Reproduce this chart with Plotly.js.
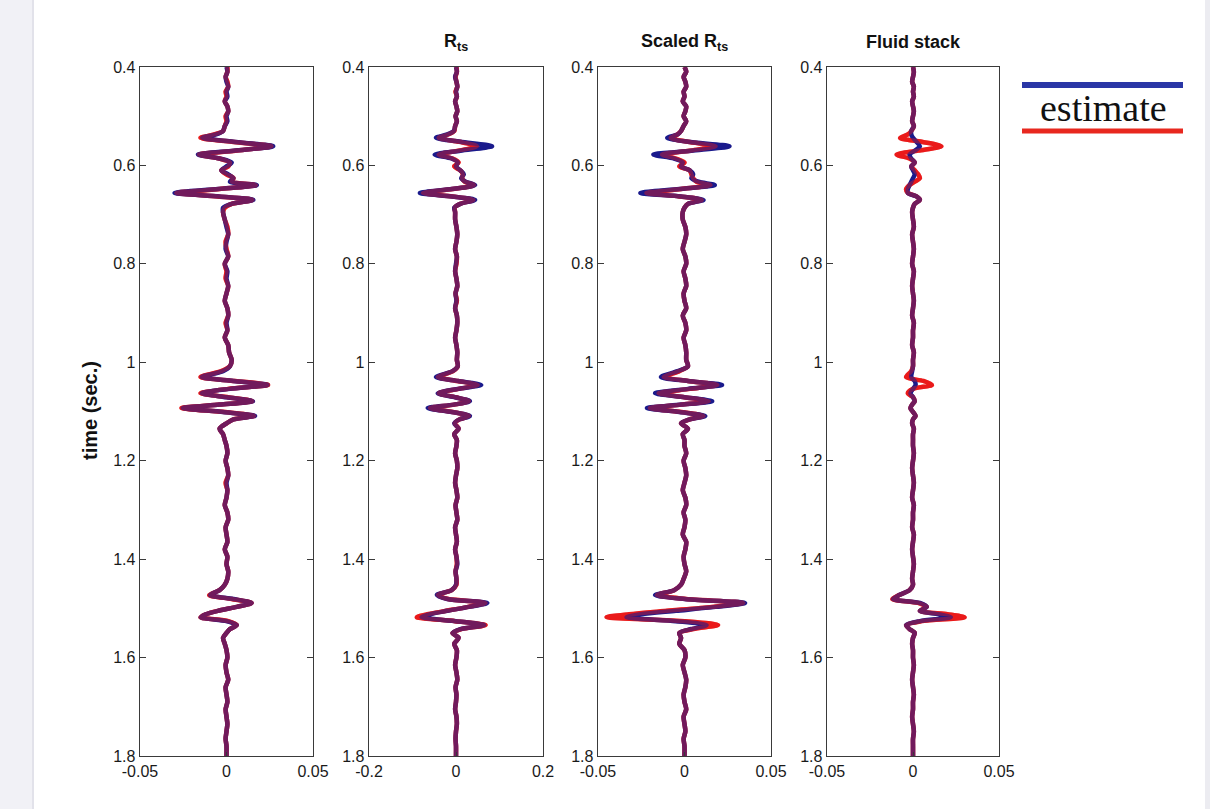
<!DOCTYPE html>
<html>
<head>
<meta charset="utf-8">
<script src="https://cdn.plot.ly/plotly-3.0.1.min.js"></script>
<style>
html,body{margin:0;padding:0;background:#fff;}
#chart{width:1210px;height:809px;}
</style>
</head>
<body>
<div id="chart"></div>
<script>
// ---- time samples (sec.), shared by all panels ----
const time = [
  0.40,0.41,0.42,0.43,0.44,0.45,0.46,0.47,0.48,0.49,0.50,0.51,0.52,
  0.530,0.537,0.544,0.552,0.561,0.570,0.578,0.586,0.594,0.602,0.610,0.618,0.626,0.633,0.640,0.648,0.656,0.663,0.670,0.678,0.686,0.695,
  0.710,0.725,0.740,0.755,0.770,0.785,0.800,0.815,0.830,0.845,0.860,0.875,0.890,0.905,0.920,0.935,0.950,0.965,0.980,0.995,
  1.008,1.018,1.030,1.038,1.046,1.054,1.063,1.071,1.079,1.086,1.093,1.101,1.109,1.116,1.124,1.135,1.146,1.158,
  1.170,1.185,1.200,1.215,1.230,1.245,1.260,1.275,1.290,1.305,1.320,1.335,1.350,1.365,1.380,1.395,1.410,1.425,1.440,
  1.452,1.463,1.473,1.481,1.489,1.497,1.505,1.512,1.518,1.526,1.534,1.542,1.550,1.560,1.572,1.585,
  1.600,1.615,1.630,1.645,1.660,1.675,1.690,1.705,1.720,1.735,1.750,1.765,1.780,1.800
];

// ---- panel 1 (true = blue, estimate = red) ----
const p1True = [
  0.000,0.0005,-0.0005,0.000,0.001,0.000,0.0005,-0.001,0.0005,0.001,0.000,0.0005,-0.001,
  -0.002,-0.006,-0.014,0.004,0.027,0.004,-0.0165,-0.004,0.003,0.000,-0.003,0.001,0.004,0.002,0.0175,-0.005,-0.030,-0.004,0.0155,0.003,-0.002,-0.002,
  -0.001,0.000,0.001,0.000,-0.0005,0.001,-0.001,0.0005,0.000,0.001,0.000,-0.001,0.0005,0.001,0.000,0.0005,-0.001,0.001,0.0015,0.003,
  0.002,-0.002,-0.0143,0.004,0.0237,0.002,-0.0143,0.000,0.0153,-0.004,-0.0253,-0.002,0.0165,0.004,0.000,-0.004,-0.002,-0.001,
  0.000,0.0005,-0.0005,0.0005,0.001,0.000,0.0005,0.000,-0.001,0.0005,0.001,-0.0005,0.000,0.0005,-0.001,0.0005,0.000,0.001,0.0005,
  -0.001,-0.004,-0.0095,0.004,0.0145,0.006,-0.005,-0.012,-0.0149,0.000,0.006,0.002,0.000,-0.002,-0.001,0.000,
  0.0005,-0.0005,0.000,0.001,-0.0005,0.000,0.0005,-0.0005,0.000,0.0005,0.000,-0.0005,0.000,0.000
];
const p1Est = [
  0.0005,0.0005,-0.0005,0.0005,0.001,-0.0005,0.000,-0.001,0.0005,0.001,-0.0005,0.000,-0.001,
  -0.002,-0.007,-0.015,0.003,0.026,0.005,-0.016,-0.004,0.002,0.001,-0.003,0.000,0.004,0.003,0.017,-0.004,-0.029,-0.005,0.015,0.003,-0.001,-0.002,
  -0.001,0.0005,0.001,-0.0005,0.000,0.001,-0.001,0.000,-0.0005,0.001,0.000,-0.001,0.0005,0.001,-0.0005,0.0005,-0.001,0.001,0.0015,0.003,
  0.002,-0.003,-0.015,0.005,0.024,0.001,-0.015,0.001,0.015,-0.004,-0.026,-0.001,0.016,0.004,0.000,-0.004,-0.002,-0.001,
  0.000,0.0005,-0.0005,0.0005,0.001,-0.0005,0.0005,0.000,-0.001,0.0005,0.001,-0.0005,0.000,0.0005,-0.001,0.0005,0.000,0.001,0.0005,
  -0.001,-0.004,-0.010,0.003,0.0145,0.006,-0.005,-0.012,-0.015,0.001,0.006,0.002,0.000,-0.002,-0.001,0.000,
  0.0005,-0.0005,0.000,0.001,-0.0005,0.000,0.0005,-0.0005,0.000,0.0005,0.000,-0.0005,0.000,0.000
];

// ---- panel 2: R_ts ----
const p2True = [
  0.000,0.002,-0.002,0.001,0.003,0.000,0.002,-0.002,0.001,0.003,-0.001,0.002,-0.002,
  -0.005,-0.020,-0.046,0.010,0.083,0.010,-0.049,-0.010,0.004,0.000,0.010,0.018,0.012,0.022,0.044,-0.010,-0.083,-0.010,0.044,0.010,-0.004,-0.002,
  -0.002,0.001,0.003,0.001,-0.002,0.002,0.000,-0.002,0.001,0.003,-0.001,0.001,-0.002,0.002,0.003,0.001,-0.002,0.001,0.003,0.002,
  0.004,-0.008,-0.046,0.005,0.058,0.005,-0.042,-0.002,0.032,-0.005,-0.065,-0.010,0.032,0.008,-0.004,0.006,-0.004,0.002,
  0.001,-0.002,0.002,0.003,0.000,-0.002,0.001,0.003,-0.001,0.001,0.003,-0.002,0.000,0.002,-0.002,0.001,0.003,-0.001,0.001,
  0.000,-0.010,-0.044,-0.020,0.072,0.030,-0.020,-0.060,-0.079,0.000,0.065,0.010,-0.008,0.006,-0.004,0.002,
  0.001,-0.002,0.001,0.003,-0.001,0.001,0.000,-0.002,0.001,0.002,0.000,-0.001,0.000,0.000
];
const p2Est = [
  0.001,0.002,-0.001,0.001,0.003,-0.001,0.002,-0.002,0.001,0.003,-0.001,0.002,-0.002,
  -0.004,-0.018,-0.040,0.008,0.048,0.006,-0.040,-0.008,0.006,-0.004,0.010,0.016,0.014,0.020,0.042,-0.008,-0.076,-0.008,0.040,0.010,-0.003,-0.002,
  -0.002,0.001,0.003,0.001,-0.002,0.002,0.001,-0.002,0.001,0.003,-0.001,0.002,-0.002,0.002,0.003,0.001,-0.002,0.001,0.003,0.002,
  0.004,-0.007,-0.042,0.004,0.050,0.006,-0.040,-0.001,0.030,-0.004,-0.060,-0.008,0.030,0.008,-0.003,0.006,-0.004,0.002,
  0.001,-0.002,0.002,0.003,0.000,-0.002,0.001,0.003,-0.001,0.001,0.003,-0.002,0.000,0.002,-0.002,0.001,0.002,-0.001,0.001,
  0.001,-0.010,-0.042,-0.018,0.068,0.028,-0.022,-0.066,-0.090,-0.002,0.068,0.012,-0.008,0.006,-0.004,0.002,
  0.001,-0.002,0.001,0.003,-0.001,0.001,0.000,-0.002,0.001,0.002,0.000,-0.001,0.000,0.000
];

// ---- panel 3: Scaled R_ts ----
const p3True = [
  0.000,0.001,-0.0005,0.0005,0.001,-0.0005,0.000,-0.001,0.001,0.0005,-0.0005,0.001,-0.0005,
  -0.002,-0.004,-0.010,0.002,0.026,0.004,-0.018,-0.006,-0.001,-0.002,0.003,0.005,0.004,0.008,0.0175,-0.003,-0.0255,-0.002,0.011,0.002,0.000,-0.001,
  -0.001,0.0005,0.001,0.000,-0.001,0.0005,0.001,-0.0005,0.0005,0.001,-0.0005,0.000,0.001,-0.001,0.0005,0.001,-0.0005,0.0005,0.001,0.001,
  0.002,-0.004,-0.0136,0.002,0.0217,0.002,-0.017,0.000,0.016,-0.002,-0.0217,-0.003,0.012,0.003,-0.002,0.002,-0.001,0.000,
  0.000,0.001,-0.0005,0.0005,0.001,0.000,-0.001,0.0005,0.001,-0.0005,0.0005,0.000,-0.001,0.001,0.0005,-0.0005,0.000,0.001,-0.0005,
  -0.002,-0.006,-0.017,0.000,0.035,0.018,-0.005,-0.025,-0.0335,-0.005,0.0128,0.004,-0.003,-0.002,-0.003,0.000,
  0.0005,-0.001,0.000,0.001,0.0005,-0.0005,0.000,0.001,-0.0005,0.000,0.0005,-0.0005,0.000,0.000
];
const p3Est = [
  0.000,0.001,-0.0005,0.0005,0.001,-0.0005,0.000,-0.001,0.001,0.0005,-0.0005,0.001,-0.0005,
  -0.002,-0.004,-0.008,0.002,0.018,0.003,-0.013,-0.005,0.000,-0.003,0.003,0.004,0.005,0.007,0.015,-0.002,-0.022,-0.003,0.010,0.002,0.000,-0.001,
  -0.001,0.0005,0.001,0.000,-0.001,0.0005,0.001,-0.0005,0.0005,0.001,-0.0005,0.000,0.001,-0.001,0.0005,0.001,-0.0005,0.0005,0.001,0.001,
  0.002,-0.003,-0.012,0.002,0.019,0.003,-0.015,0.000,0.014,-0.002,-0.020,-0.002,0.011,0.003,-0.002,0.002,-0.001,0.000,
  0.000,0.001,-0.0005,0.0005,0.001,0.000,-0.001,0.0005,0.001,-0.0005,0.0005,0.000,-0.001,0.001,0.0005,-0.0005,0.000,0.001,-0.0005,
  -0.002,-0.006,-0.016,0.001,0.034,0.016,-0.010,-0.032,-0.045,0.000,0.0194,0.005,-0.003,-0.002,-0.003,0.000,
  0.0005,-0.001,0.000,0.001,0.0005,-0.0005,0.000,0.001,-0.0005,0.000,0.0005,-0.0005,0.000,0.000
];

// ---- panel 4: Fluid stack ----
const p4True = [
  0.000,0.0005,0.000,-0.0005,0.0005,0.000,0.0005,-0.0005,0.000,0.0005,0.000,-0.0005,0.0005,
  -0.001,-0.001,0.000,0.002,0.004,0.001,-0.002,-0.001,0.001,-0.001,0.000,0.001,0.000,-0.001,-0.002,-0.003,-0.003,0.002,0.004,0.001,0.000,-0.0005,
  0.000,0.0005,-0.0005,0.000,0.0005,0.000,-0.0005,0.0005,0.000,-0.0005,0.000,0.0005,0.000,-0.0005,0.0005,0.000,0.000,-0.0005,0.0005,0.000,
  0.000,-0.0005,-0.001,0.001,0.0015,0.000,-0.0015,0.000,0.001,-0.0005,-0.0015,0.000,0.0015,0.000,-0.0005,0.0005,0.000,0.000,
  0.000,0.0005,0.000,-0.0005,0.000,0.0005,0.000,-0.0005,0.0005,0.000,0.000,-0.0005,0.0005,0.000,-0.0005,0.000,0.0005,0.000,-0.0005,
  0.000,-0.002,-0.008,-0.0116,0.004,0.008,0.004,0.015,0.022,0.004,-0.004,-0.002,0.001,0.000,-0.0005,0.000,
  0.000,0.0005,0.000,-0.0005,0.000,0.0005,0.000,0.000,-0.0005,0.000,0.0005,0.000,0.000,0.000
];
const p4Est = [
  0.000,0.0005,0.000,-0.0005,0.0005,0.000,0.0005,-0.0005,0.000,0.0005,0.000,-0.0005,0.0005,
  -0.001,-0.003,-0.0075,0.005,0.0165,0.003,-0.0095,-0.002,0.001,-0.001,0.001,0.003,0.004,0.001,-0.002,-0.004,-0.003,0.002,0.004,0.001,0.000,-0.0005,
  0.000,0.0005,-0.0005,0.000,0.0005,0.000,-0.0005,0.0005,0.000,-0.0005,0.000,0.0005,0.000,-0.0005,0.0005,0.000,0.000,-0.0005,0.0005,0.000,
  0.000,-0.001,-0.004,0.006,0.011,0.000,-0.003,0.000,0.001,-0.0005,-0.0015,0.000,0.0015,0.000,-0.0005,0.0005,0.000,0.000,
  0.000,0.0005,0.000,-0.0005,0.000,0.0005,0.000,-0.0005,0.0005,0.000,0.000,-0.0005,0.0005,0.000,-0.0005,0.000,0.0005,0.000,-0.0005,
  0.000,-0.002,-0.008,-0.012,0.003,0.008,0.004,0.020,0.030,0.005,-0.004,-0.002,0.001,0.000,-0.0005,0.000,
  0.000,0.0005,0.000,-0.0005,0.000,0.0005,0.000,0.000,-0.0005,0.000,0.0005,0.000,0.000,0.000
];

// ---- axis labels / titles ----
const panelTitles = ["", "R<sub>ts</sub>", "Scaled R<sub>ts</sub>", "Fluid stack"];
const xRanges = [[-0.05,0.05],[-0.2,0.2],[-0.05,0.05],[-0.05,0.05]];
const xTickVals = [[-0.05,0,0.05],[-0.2,0,0.2],[-0.05,0,0.05],[-0.05,0,0.05]];
const xTickText = [["-0.05","0","0.05"],["-0.2","0","0.2"],["-0.05","0","0.05"],["-0.05","0","0.05"]];
const yTickVals = [0.4,0.6,0.8,1.0,1.2,1.4,1.6,1.8];
const yTickText = ["0.4","0.6","0.8","1","1.2","1.4","1.6","1.8"];
const yTitle = "time (sec.)";
const legendText = "estimate";

const trueSeries = [p1True, p2True, p3True, p4True];
const estSeries = [p1Est, p2Est, p3Est, p4Est];

// ---- layout geometry (pixels) ----
const W = 1210, H = 809;
const panelPx = [[140,313],[369,543],[598,771],[827,999]];
const topPx = 67, botPx = 756;
const px = v => v / W;
const py = v => 1 - v / H;

const BLUE = "#1a1a8c";
const RED = "#ea1a1a";
const FONT = "Liberation Sans, Arial, sans-serif";

const traces = [];
const layout = {
  width: W, height: H,
  margin: {l:0, r:0, t:0, b:0},
  paper_bgcolor: "#ffffff",
  plot_bgcolor: "#ffffff",
  showlegend: false,
  font: {family: FONT, color: "#222"},
  shapes: [], annotations: []
};

for (let i = 0; i < 4; i++) {
  const xa = i === 0 ? "x" : "x" + (i + 1);
  const ya = i === 0 ? "y" : "y" + (i + 1);
  const common = {y: time, xaxis: xa, yaxis: ya, mode: "lines", hoverinfo: "skip"};
  const ln = (c) => ({color: c, width: 4.5, shape: "spline", smoothing: 0.8});
  traces.push(Object.assign({}, common, {x: estSeries[i], line: ln(RED)}));
  traces.push(Object.assign({}, common, {x: trueSeries[i], line: ln(BLUE)}));
  traces.push(Object.assign({}, common, {x: estSeries[i], opacity: 0.42, line: ln(RED)}));

  const xkey = i === 0 ? "xaxis" : "xaxis" + (i + 1);
  const ykey = i === 0 ? "yaxis" : "yaxis" + (i + 1);
  layout[xkey] = {
    domain: [px(panelPx[i][0]), px(panelPx[i][1])],
    anchor: ya, range: xRanges[i],
    tickmode: "array", tickvals: xTickVals[i], ticktext: xTickText[i],
    showline: true, mirror: true, linecolor: "#3a3a3a", linewidth: 1.4,
    ticks: "inside", ticklen: 4, tickcolor: "#3a3a3a",
    showgrid: false, zeroline: false,
    tickfont: {family: FONT, size: 16, color: "#1a1a1a"}
  };
  layout[ykey] = {
    domain: [py(botPx), py(topPx)],
    anchor: xa, range: [1.8, 0.4],
    tickmode: "array", tickvals: yTickVals, ticktext: yTickText,
    showline: true, mirror: "ticks", linecolor: "#3a3a3a", linewidth: 1.4,
    ticks: "inside", ticklen: 6, tickcolor: "#3a3a3a",
    showgrid: false, zeroline: false,
    tickfont: {family: FONT, size: 16, color: "#1a1a1a"}
  };
  if (panelTitles[i]) {
    layout.annotations.push({
      xref: "paper", yref: "paper",
      x: px((panelPx[i][0] + panelPx[i][1]) / 2), y: py(42),
      text: "<b>" + panelTitles[i] + "</b>", showarrow: false,
      xanchor: "center", yanchor: "middle",
      font: {family: FONT, size: 18, color: "#111"}
    });
  }
}

layout.annotations.push({
  xref: "paper", yref: "paper", x: px(90), y: py(411),
  text: "<b>" + yTitle + "</b>", textangle: -90, showarrow: false,
  xanchor: "center", yanchor: "middle",
  font: {family: FONT, size: 20, color: "#111"}
});
layout.annotations.push({
  xref: "paper", yref: "paper", x: px(1103), y: py(108),
  text: legendText, showarrow: false, xanchor: "center", yanchor: "middle",
  font: {family: "Liberation Serif, Times New Roman, serif", size: 38, color: "#111"}
});

// page strips and legend lines
layout.shapes.push({type: "rect", xref: "paper", yref: "paper", x0: 0, x1: px(33), y0: 0, y1: 1,
  fillcolor: "#f1f1f6", line: {width: 0}, layer: "below"});
layout.shapes.push({type: "line", xref: "paper", yref: "paper", x0: px(33), x1: px(33), y0: 0, y1: 1,
  line: {color: "#e2e2ea", width: 2}});
layout.shapes.push({type: "rect", xref: "paper", yref: "paper", x0: px(1205), x1: 1, y0: 0, y1: 1,
  fillcolor: "#ececf1", line: {width: 0}, layer: "below"});
layout.shapes.push({type: "line", xref: "paper", yref: "paper", x0: px(1022), x1: px(1183), y0: py(85), y1: py(85),
  line: {color: "#2a36a6", width: 6}});
layout.shapes.push({type: "line", xref: "paper", yref: "paper", x0: px(1022), x1: px(1183), y0: py(131), y1: py(131),
  line: {color: "#e8281f", width: 5}});

Plotly.newPlot("chart", traces, layout, {staticPlot: true, displayModeBar: false});
</script>
</body>
</html>
